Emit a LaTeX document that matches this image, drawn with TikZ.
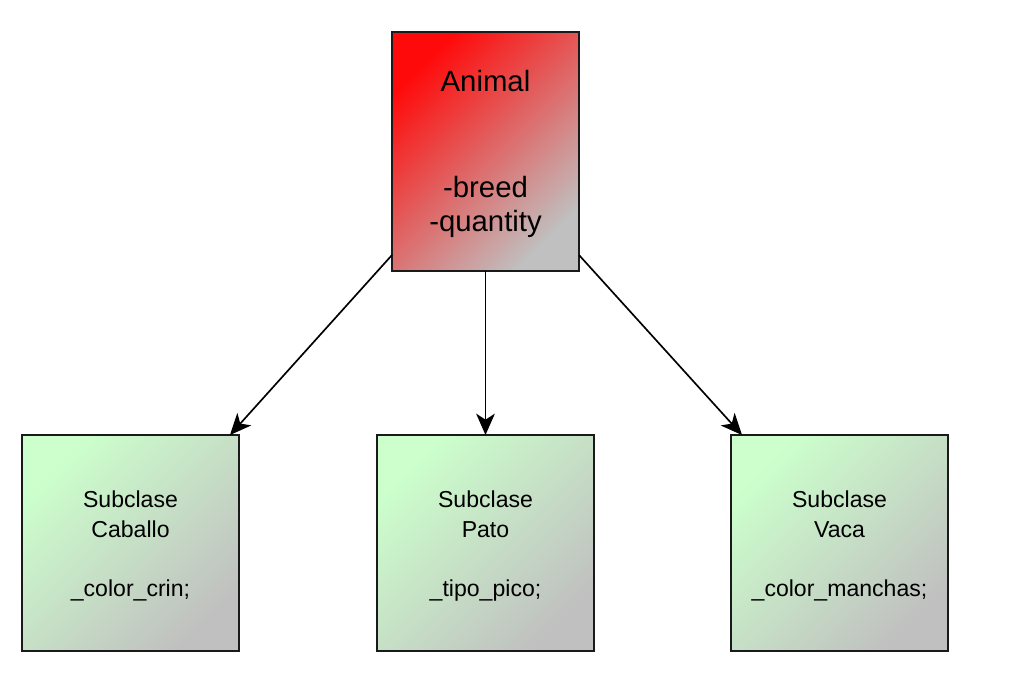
\documentclass[tikz,border=0pt]{standalone}
\usepackage{fontspec}
\setmainfont{Liberation Sans}
\usetikzlibrary{arrows.meta}
\definecolor{boxred}{HTML}{FF0A0A}
\definecolor{boxgray}{HTML}{C0C0C0}
\definecolor{boxgreen}{HTML}{CCFFCC}
\definecolor{edge}{HTML}{1A1A1A}
\tikzset{
  superbox/.style={draw=edge, line width=0.9pt, inner sep=0pt, outer sep=0pt,
    minimum width=140.25pt, minimum height=179.25pt, align=center,
    top color=boxred, bottom color=boxgray, shading angle=45,
    font=\fontsize{22}{25.5}\selectfont},
  subbox/.style={draw=edge, line width=0.9pt, inner sep=0pt, outer sep=0pt,
    minimum width=162.75pt, minimum height=162pt, align=center,
    top color=boxgreen, bottom color=boxgray, shading angle=45,
    font=\fontsize{17.3}{22.3}\selectfont},
  link/.style={draw=black, line width=1.25pt, -{Stealth[length=16pt,width=14pt,inset=4.5pt]}}
}
\begin{document}
\begin{tikzpicture}[x=0.75pt,y=-0.75pt]
\useasboundingbox (0,0) rectangle (1009,683);
\node[superbox] (animal) at (485.5,151.5) {\rule{0pt}{19pt}Animal\\[54pt]-breed\\-quantity};
\node[subbox] (caballo) at (130.5,543) {\rule{0pt}{17pt}Subclase\\Caballo\\[22.3pt]\_color\_crin;};
\node[subbox] (pato) at (485.5,543) {\rule{0pt}{17pt}Subclase\\Pato\\[22.3pt]\_tipo\_pico;};
\node[subbox] (vaca) at (839.5,543) {\rule{0pt}{17pt}Subclase\\Vaca\\[22.3pt]\_color\_manchas;};
\draw[link] ([yshift=12pt]animal.south west) -- ([xshift=-6.75pt]caballo.north east);
\draw[link] (animal.south) -- (pato.north);
\draw[link] ([yshift=12pt]animal.south east) -- ([xshift=8.25pt]vaca.north west);
\end{tikzpicture}
\end{document}
